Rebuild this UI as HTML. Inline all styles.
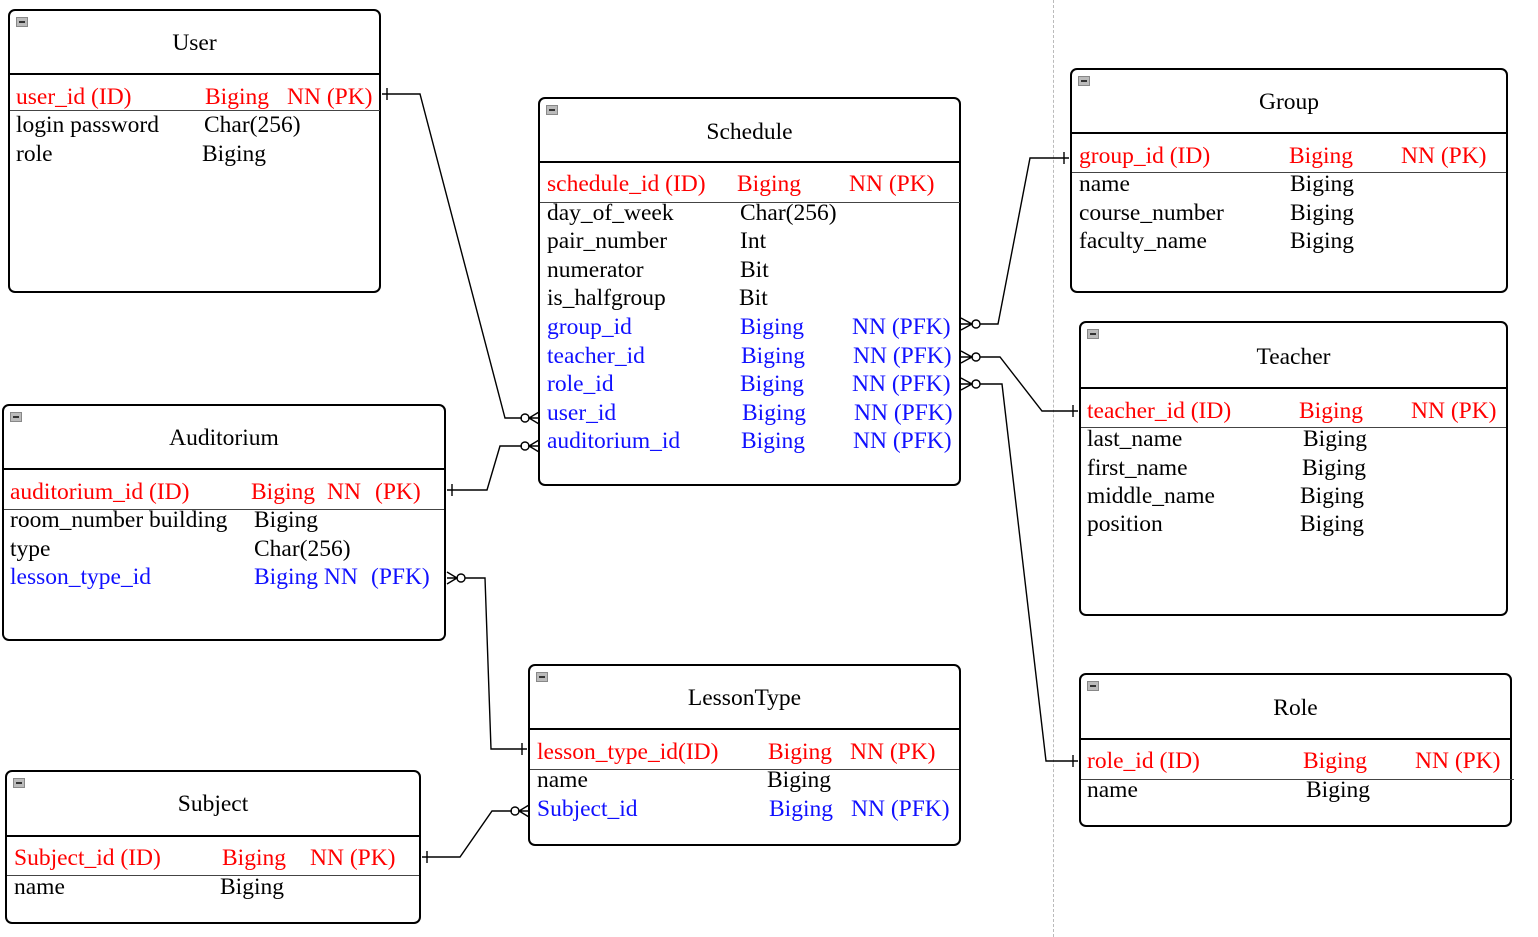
<!DOCTYPE html>
<html><head><meta charset="utf-8">
<style>
html,body{margin:0;padding:0;background:#fff;}
body{width:1538px;height:937px;position:relative;overflow:hidden;font-family:"Liberation Serif",serif;font-size:23.5px;}
.b{position:absolute;border:2.2px solid #000;border-radius:7px;box-sizing:border-box;}
.h{position:absolute;left:0;right:0;height:0;border-top:2px solid #000;}
.u{position:absolute;height:0;border-top:1.5px solid #444;}
.m{position:absolute;width:10px;height:8px;background:#bbb;border:1px solid #888;}
.m:after{content:"";position:absolute;left:2px;right:2px;top:3px;height:2px;background:#333;}
.t{position:absolute;line-height:24px;white-space:nowrap;color:#000;}
.r{color:#f00;}
.bl{color:#1010ff;}
.ttl{position:absolute;line-height:24px;text-align:center;}
</style></head><body>
<div style="position:absolute;left:1053px;top:0;height:937px;border-left:1.5px dashed #bbb;"></div>

<div class="b" style="left:8px;top:9px;width:373px;height:284px;">
<div class="m" style="left:6px;top:6px"></div>
<div class="ttl" style="left:0;right:0;top:20px">User</div>
<div class="h" style="top:62px"></div></div>
<div class="u" style="left:10px;width:370px;top:110px"></div>
<span class="t r" style="left:16px;top:85px">user_id (ID)</span>
<span class="t r" style="left:205px;top:85px">Biging</span>
<span class="t r" style="left:287px;top:85px">NN (PK)</span>
<span class="t" style="left:16px;top:113px">login password</span>
<span class="t" style="left:204px;top:113px">Char(256)</span>
<span class="t" style="left:16px;top:142px">role</span>
<span class="t" style="left:202px;top:142px">Biging</span>

<div class="b" style="left:538px;top:97px;width:423px;height:389px;">
<div class="m" style="left:6px;top:6px"></div>
<div class="ttl" style="left:0;right:0;top:21px">Schedule</div>
<div class="h" style="top:62px"></div></div>
<div class="u" style="left:540px;width:420px;top:202px"></div>
<span class="t r" style="left:547px;top:172px">schedule_id (ID)</span>
<span class="t r" style="left:737px;top:172px">Biging</span>
<span class="t r" style="left:849px;top:172px">NN (PK)</span>
<span class="t" style="left:547px;top:201px">day_of_week</span>
<span class="t" style="left:740px;top:201px">Char(256)</span>
<span class="t" style="left:547px;top:229px">pair_number</span>
<span class="t" style="left:740px;top:229px">Int</span>
<span class="t" style="left:547px;top:258px">numerator</span>
<span class="t" style="left:740px;top:258px">Bit</span>
<span class="t" style="left:547px;top:286px">is_halfgroup</span>
<span class="t" style="left:739px;top:286px">Bit</span>
<span class="t bl" style="left:547px;top:315px">group_id</span>
<span class="t bl" style="left:740px;top:315px">Biging</span>
<span class="t bl" style="left:852px;top:315px">NN (PFK)</span>
<span class="t bl" style="left:547px;top:344px">teacher_id</span>
<span class="t bl" style="left:741px;top:344px">Biging</span>
<span class="t bl" style="left:853px;top:344px">NN (PFK)</span>
<span class="t bl" style="left:547px;top:372px">role_id</span>
<span class="t bl" style="left:740px;top:372px">Biging</span>
<span class="t bl" style="left:852px;top:372px">NN (PFK)</span>
<span class="t bl" style="left:547px;top:401px">user_id</span>
<span class="t bl" style="left:742px;top:401px">Biging</span>
<span class="t bl" style="left:854px;top:401px">NN (PFK)</span>
<span class="t bl" style="left:547px;top:429px">auditorium_id</span>
<span class="t bl" style="left:741px;top:429px">Biging</span>
<span class="t bl" style="left:853px;top:429px">NN (PFK)</span>

<div class="b" style="left:1070px;top:68px;width:438px;height:225px;">
<div class="m" style="left:6px;top:6px"></div>
<div class="ttl" style="left:0;right:0;top:20px">Group</div>
<div class="h" style="top:62px"></div></div>
<div class="u" style="left:1072px;width:434px;top:172px"></div>
<span class="t r" style="left:1079px;top:144px">group_id (ID)</span>
<span class="t r" style="left:1289px;top:144px">Biging</span>
<span class="t r" style="left:1401px;top:144px">NN (PK)</span>
<span class="t" style="left:1079px;top:172px">name</span>
<span class="t" style="left:1290px;top:172px">Biging</span>
<span class="t" style="left:1079px;top:201px">course_number</span>
<span class="t" style="left:1290px;top:201px">Biging</span>
<span class="t" style="left:1079px;top:229px">faculty_name</span>
<span class="t" style="left:1290px;top:229px">Biging</span>

<div class="b" style="left:1079px;top:321px;width:429px;height:295px;">
<div class="m" style="left:6px;top:6px"></div>
<div class="ttl" style="left:0;right:0;top:22px">Teacher</div>
<div class="h" style="top:64px"></div></div>
<div class="u" style="left:1081px;width:425px;top:427px"></div>
<span class="t r" style="left:1087px;top:399px">teacher_id (ID)</span>
<span class="t r" style="left:1299px;top:399px">Biging</span>
<span class="t r" style="left:1411px;top:399px">NN (PK)</span>
<span class="t" style="left:1087px;top:427px">last_name</span>
<span class="t" style="left:1303px;top:427px">Biging</span>
<span class="t" style="left:1087px;top:456px">first_name</span>
<span class="t" style="left:1302px;top:456px">Biging</span>
<span class="t" style="left:1087px;top:484px">middle_name</span>
<span class="t" style="left:1300px;top:484px">Biging</span>
<span class="t" style="left:1087px;top:512px">position</span>
<span class="t" style="left:1300px;top:512px">Biging</span>

<div class="b" style="left:2px;top:404px;width:444px;height:237px;">
<div class="m" style="left:6px;top:6px"></div>
<div class="ttl" style="left:0;right:0;top:20px">Auditorium</div>
<div class="h" style="top:62px"></div></div>
<div class="u" style="left:4px;width:440px;top:509px"></div>
<span class="t r" style="left:10px;top:480px">auditorium_id (ID)</span>
<span class="t r" style="left:251px;top:480px">Biging</span>
<span class="t r" style="left:327px;top:480px">NN</span>
<span class="t r" style="left:375px;top:480px">(PK)</span>
<span class="t" style="left:10px;top:508px">room_number building</span>
<span class="t" style="left:254px;top:508px">Biging</span>
<span class="t" style="left:10px;top:537px">type</span>
<span class="t" style="left:254px;top:537px">Char(256)</span>
<span class="t bl" style="left:10px;top:565px">lesson_type_id</span>
<span class="t bl" style="left:254px;top:565px">Biging NN</span>
<span class="t bl" style="left:371px;top:565px">(PFK)</span>

<div class="b" style="left:528px;top:664px;width:433px;height:182px;">
<div class="m" style="left:6px;top:6px"></div>
<div class="ttl" style="left:0;right:0;top:20px">LessonType</div>
<div class="h" style="top:62px"></div></div>
<div class="u" style="left:530px;width:429px;top:769px"></div>
<span class="t r" style="left:537px;top:740px">lesson_type_id(ID)</span>
<span class="t r" style="left:768px;top:740px">Biging</span>
<span class="t r" style="left:850px;top:740px">NN (PK)</span>
<span class="t" style="left:537px;top:768px">name</span>
<span class="t" style="left:767px;top:768px">Biging</span>
<span class="t bl" style="left:537px;top:797px">Subject_id</span>
<span class="t bl" style="left:769px;top:797px">Biging</span>
<span class="t bl" style="left:851px;top:797px">NN (PFK)</span>

<div class="b" style="left:1079px;top:673px;width:433px;height:154px;">
<div class="m" style="left:6px;top:6px"></div>
<div class="ttl" style="left:0;right:0;top:21px">Role</div>
<div class="h" style="top:63px"></div></div>
<div class="u" style="left:1081px;width:433px;top:779px"></div>
<span class="t r" style="left:1087px;top:749px">role_id (ID)</span>
<span class="t r" style="left:1303px;top:749px">Biging</span>
<span class="t r" style="left:1415px;top:749px">NN (PK)</span>
<span class="t" style="left:1087px;top:778px">name</span>
<span class="t" style="left:1306px;top:778px">Biging</span>

<div class="b" style="left:5px;top:770px;width:416px;height:154px;">
<div class="m" style="left:6px;top:6px"></div>
<div class="ttl" style="left:0;right:0;top:20px">Subject</div>
<div class="h" style="top:63px"></div></div>
<div class="u" style="left:7px;width:412px;top:875px"></div>
<span class="t r" style="left:14px;top:846px">Subject_id (ID)</span>
<span class="t r" style="left:222px;top:846px">Biging</span>
<span class="t r" style="left:310px;top:846px">NN (PK)</span>
<span class="t" style="left:14px;top:875px">name</span>
<span class="t" style="left:220px;top:875px">Biging</span>

<svg width="1538" height="937" style="position:absolute;left:0;top:0" fill="none" stroke="#000" stroke-width="1.4">
<polyline points="382,94 420,94 505,418 522,418"/>
<line x1="387" y1="88" x2="387" y2="100"/>
<circle cx="525" cy="418" r="4"/><path d="M539,412 L529,418 L539,424 M529,418 L539,418"/>
<polyline points="447,490 487,490 500,446 522,446"/>
<line x1="452" y1="484" x2="452" y2="496"/>
<circle cx="525" cy="446" r="4"/><path d="M539,440 L529,446 L539,452 M529,446 L539,446"/>
<polyline points="980,324 998,324 1030,158 1069,158"/>
<line x1="1064" y1="152" x2="1064" y2="164"/>
<circle cx="976" cy="324" r="4"/><path d="M961,318 L972,324 L961,330 M961,324 L972,324"/>
<polyline points="980,357 1000,357 1042,411 1078,411"/>
<line x1="1073" y1="405" x2="1073" y2="417"/>
<circle cx="976" cy="357" r="4"/><path d="M961,351 L972,357 L961,363 M961,357 L972,357"/>
<polyline points="980,384 1002,384 1046,761 1078,761"/>
<line x1="1073" y1="755" x2="1073" y2="767"/>
<circle cx="976" cy="384" r="4"/><path d="M961,378 L972,384 L961,390 M961,384 L972,384"/>
<polyline points="465,578 485,578 491,749 527,749"/>
<line x1="522" y1="743" x2="522" y2="755"/>
<circle cx="461" cy="578" r="4"/><path d="M447,572 L457,578 L447,584 M447,578 L457,578"/>
<polyline points="422,857 460,857 492,811 512,811"/>
<line x1="427" y1="851" x2="427" y2="863"/>
<circle cx="515" cy="811" r="4"/><path d="M529,805 L519,811 L529,817 M519,811 L529,811"/>
</svg>
</body></html>
